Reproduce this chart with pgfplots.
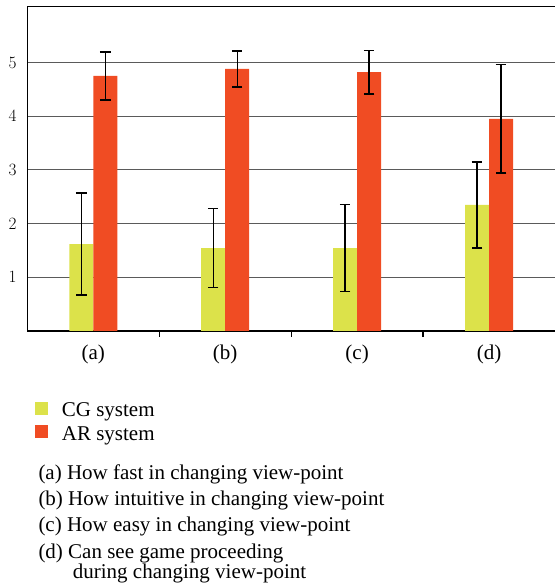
\documentclass[border=0pt]{standalone}
\usepackage{pgfplots}
\pgfplotsset{compat=1.18}
\usepackage{fontspec}
\setmainfont{Liberation Serif}
\definecolor{cgcol}{RGB}{220,226,74}
\definecolor{arcol}{RGB}{240,76,35}
\definecolor{gridcol}{RGB}{90,90,90}
\begin{document}
\begin{tikzpicture}[font=\fontsize{21bp}{25bp}\selectfont]
\begin{axis}[
  at={(27.3bp,257bp)}, anchor=south west,
  scale only axis, width=527.7bp, height=324.3bp,
  xmin=-0.5, xmax=3.5, ymin=0, ymax=6.04,
  axis x line=box, axis y line=left,
  axis line style={-, line width=1.2bp, black},
  ybar=0pt, bar width=24bp,
  xtick={0.5,1.5,2.5}, xticklabels={}, xtick pos=lower,
  major tick length=6bp, xtick style={line width=1.2bp, black},
  extra x ticks={0,1,2,3},
  extra x tick labels={(a),(b),(c),(d)},
  extra x tick style={major tick length=0pt, xticklabel style={anchor=base, yshift=-28.5bp}},
  ytick={1,2,3,4,5}, ytick style={draw=none},
  yticklabel style={font=\fontsize{18bp}{20bp}\selectfont, anchor=east, xshift=-4.3bp},
  ymajorgrids, major grid style={gridcol, line width=1bp},
  legend style={draw=none, fill=none, at={(axis description cs:0.0146,-0.215)}, anchor=north west,
    legend cell align=left, row sep=4bp, font=\fontsize{21bp}{25bp}\selectfont,
    inner sep=0pt, /tikz/every odd column/.append style={column sep=12bp}},
  legend image code/.code={\fill[#1, draw=none] (0bp,-4.5bp) rectangle (12.7bp,8.5bp);},
]
\addplot[fill=cgcol, draw=none,
  error bars/.cd, y dir=both, y explicit,
  error bar style={line width=1.3bp, black},
  error mark options={rotate=90, line width=1.6bp, black, mark size=5.3bp}]
  coordinates {
  (0,1.62) +- (0,0.95)
  (1,1.545) +- (0,0.735)
  (2,1.545) +- (0,0.81)
  (3,2.35) +- (0,0.80)
  };
\addlegendentry{CG system}
\addplot[fill=arcol, draw=none,
  error bars/.cd, y dir=both, y explicit,
  error bar style={line width=1.3bp, black},
  error mark options={rotate=90, line width=1.6bp, black, mark size=5.3bp}]
  coordinates {
  (0,4.75) +- (0,0.445)
  (1,4.88) +- (0,0.34)
  (2,4.82) +- (0,0.405)
  (3,3.95) +- (0,1.01)
  };
\addlegendentry{AR system}
\end{axis}
\node[anchor=base west, inner sep=0pt] at (38.3bp,108.7bp) {(a) How fast in changing view-point};
\node[anchor=base west, inner sep=0pt] at (38.3bp,82.3bp) {(b) How intuitive in changing view-point};
\node[anchor=base west, inner sep=0pt] at (38.3bp,56.3bp) {(c) How easy in changing view-point};
\node[anchor=base west, inner sep=0pt] at (38.3bp,29.7bp) {(d) Can see game proceeding};
\node[anchor=base west, inner sep=0pt] at (72.7bp,9.7bp) {during changing view-point};
\pgfresetboundingbox
\path[use as bounding box] (0,0) rectangle (555bp,588bp);
\end{tikzpicture}
\end{document}
